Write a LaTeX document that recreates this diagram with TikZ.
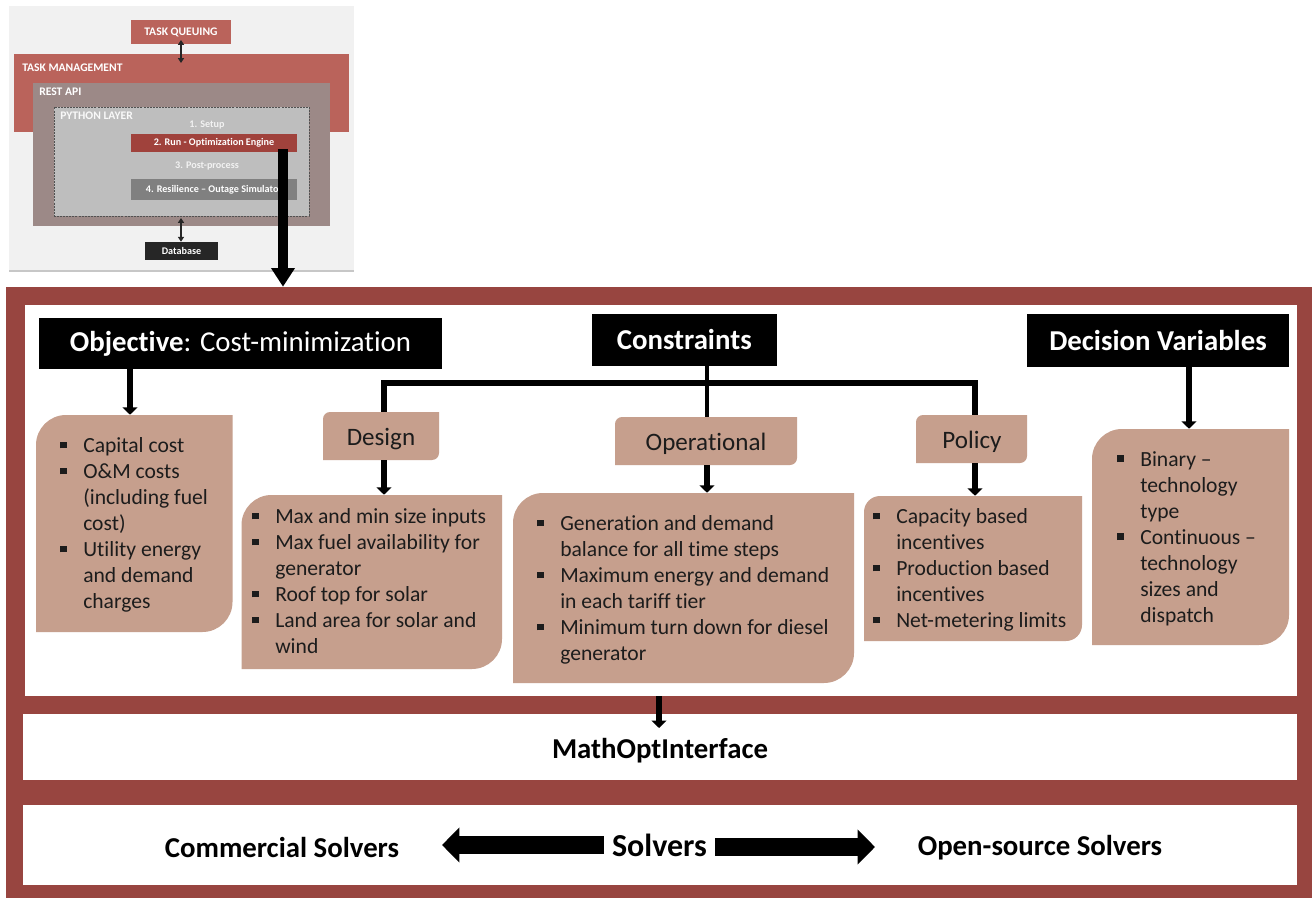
\documentclass[tikz,border=0pt]{standalone}
\usepackage{fontspec}
\setmainfont{Carlito}[Ligatures=NoCommon]
\usetikzlibrary{arrows.meta,calc}
\definecolor{frameR}{HTML}{984540}
\definecolor{tanB}{HTML}{C69F8D}
\definecolor{thumbBg}{HTML}{F1F1F1}
\definecolor{taskR}{HTML}{BA635B}
\definecolor{restG}{HTML}{9C8987}
\definecolor{pyG}{HTML}{BEBEBE}
\definecolor{runR}{HTML}{A0423C}
\definecolor{resG}{HTML}{808080}
\definecolor{dbK}{HTML}{262626}
\definecolor{bodyK}{HTML}{1C1C1C}
\newcommand{\rectnode}[7][]{%
  \node[rectangle,inner sep=0pt,minimum width={(#4-#2)*0.75pt},minimum height={(#5-#3)*0.75pt},#1] (#6) at ({(#2+#4)/2},{(#3+#5)/2}) {#7};}
\newcommand{\diagnode}[6]{%
  \pgfmathsetmacro{\xa}{#2}\pgfmathsetmacro{\ya}{#3}\pgfmathsetmacro{\xb}{#4}\pgfmathsetmacro{\yb}{#5}\pgfmathsetmacro{\rr}{#6}%
  \fill[tanB] (\xa,\yb) -- (\xa,\ya+\rr) .. controls (\xa,\ya+0.45*\rr) and (\xa+0.45*\rr,\ya) .. (\xa+\rr,\ya) -- (\xb,\ya) -- (\xb,\yb-\rr) .. controls (\xb,\yb-0.45*\rr) and (\xb-0.45*\rr,\yb) .. (\xb-\rr,\yb) -- cycle;
  \rectnode{#2}{#3}{#4}{#5}{#1}{}}
\newcommand{\bl}{\makebox[0pt][r]{\raisebox{3pt}{\rule{5pt}{5pt}}\hspace{12.4pt}}}
\tikzset{
  hdr/.style={fill=black,text=white,font=\fontsize{21.6}{26}\selectfont},
  sub/.style={font=\fontsize{18.8}{22}\selectfont,text=bodyK},
  lst/.style={anchor=north west,inner sep=0pt,align=left,text=bodyK,font=\fontsize{16.2}{19.5}\selectfont},
  thb/.style={text=white,font=\fontsize{7.6}{9}\selectfont\bfseries},
  thc/.style={text=white,font=\fontsize{8.7}{10}\selectfont\bfseries},
  big/.style={font=\fontsize{21.6}{26}\selectfont\bfseries,text=black},
  arr/.style={line width=3.9pt,-{Triangle[length=5.5pt,width=11pt]},black},
  thinarr/.style={line width=0.9pt,{Triangle[length=3.7pt,width=4.6pt]}-{Triangle[length=3.7pt,width=4.6pt]},dbK},
  bar/.style={line width=5pt,black,line join=miter}
}
\begin{document}
\begin{tikzpicture}[x=0.75pt,y=-0.75pt]
\useasboundingbox (0,0) rectangle (1312,898);
% thumbnail
\rectnode[fill=black!22]{9}{7}{354}{272}{tshadow}{}
\rectnode[fill=thumbBg]{9}{6}{354}{270}{thumb}{}
\rectnode[fill=taskR,thc]{131}{20}{231}{44}{tq}{TASK QUEUING}
\rectnode[fill=taskR]{14}{54}{349}{132}{tm}{}
\rectnode[fill=restG]{33}{83}{330}{226}{rest}{}
\rectnode[fill=pyG,draw=dbK!80,dash pattern=on 1.5pt off 0.8pt,line width=0.6pt]{54}{107}{309}{216}{py}{}
\rectnode[fill=runR,thb]{131}{134}{297}{152}{run}{2. Run - Optimization Engine}
\rectnode[fill=resG,thb]{131}{179}{297}{200}{res}{4. Resilience -- Outage Simulator}
\rectnode[fill=dbK,thb]{145}{242}{218}{260}{db}{Database}
\node[thc,anchor=west,inner sep=0pt] (tml) at (22,68) {TASK MANAGEMENT};
\node[thc,anchor=west,inner sep=0pt] (ral) at (39,91.5) {REST API};
\node[thc,anchor=west,inner sep=0pt,text=white!90!pyG] (pyl) at (60,116) {PYTHON LAYER};
\node[thb,inner sep=0pt,text=white!80!pyG] (st1) at (207,124.5) {1. Setup};
\node[thb,inner sep=0pt,text=white!80!pyG] (st3) at (207,166) {3. Post-process};
\coordinate (tqx) at (181,63);
\coordinate (tqy) at (181,40);
\coordinate (rex) at (181,218);
\draw[thinarr] (tqy) -- (tqx);
\draw[thinarr] (rex) -- (db.north -| rex);
% frame
\rectnode[fill=frameR]{6}{287}{1312}{898}{frame}{}
\rectnode[fill=white]{25}{305}{1297}{696}{pTop}{}
\rectnode[fill=white]{23}{714}{1297}{780}{pMoi}{}
\rectnode[fill=white]{23}{805}{1297}{885}{pSol}{}
% main arrow
\coordinate (mx) at (283,149);
\draw[line width=6.9pt,-{Triangle[length=14pt,width=17pt]},black] (mx) -- (mx |- frame.north);
% headers
\rectnode[hdr]{39}{318}{442}{369}{obj}{\raisebox{-1.5pt}{\textbf{Objective}: Cost-minimization}}
\rectnode[hdr,font=\fontsize{21.6}{26}\selectfont\bfseries]{592}{314}{776.5}{366}{con}{Constraints}
\rectnode[hdr,font=\fontsize{21.6}{26}\selectfont\bfseries]{1027}{314}{1289}{367}{dec}{Decision Variables}
% sub boxes
\diagnode{design}{323}{412}{439}{460}{7}
\node[sub,inner sep=0pt] (designT) at (381,439) {Design};
\diagnode{oper}{615}{417}{797}{465}{7}
\node[sub,inner sep=0pt] (operT) at (706,444) {Operational};
\diagnode{policy}{916}{415}{1027}{463}{7}
\node[sub,inner sep=0pt] (policyT) at (972,442) {Policy};
% lists
\diagnode{capL}{36}{415}{232.5}{632}{30}
\diagnode{desL}{241.5}{495}{502}{669}{30}
\diagnode{opL}{513}{493}{854}{683}{30}
\diagnode{polL}{864}{496}{1082}{641}{16}
\diagnode{decL}{1092}{429}{1289}{645}{30}
\node[lst] (capT) at (83,437) {\bl Capital cost\\\bl O\&M costs\\(including fuel\\cost)\\\bl Utility energy\\and demand\\charges};
\node[lst] (desT) at (275,508) {\bl Max and min size inputs\\\bl Max fuel availability for\\generator\\\bl Roof top for solar\\\bl Land area for solar and\\wind};
\node[lst] (opT) at (560,515) {\bl Generation and demand\\balance for all time steps\\\bl Maximum energy and demand\\in each tariff tier\\\bl Minimum turn down for diesel\\generator};
\node[lst] (polT) at (896,508) {\bl Capacity based\\incentives\\\bl Production based\\incentives\\\bl Net-metering limits};
\node[lst] (decT) at (1140,451) {\bl Binary --\\technology\\type\\\bl Continuous --\\technology\\sizes and\\dispatch};
% connectors
\coordinate (ax) at (130,0);
\coordinate (bx) at (384,0);
\coordinate (cx) at (707,0);
\coordinate (dx) at (975,0);
\coordinate (ex) at (1189,0);
\coordinate (fx) at (659,0);
\coordinate (hy) at (0,383);
\draw[arr] (ax |- obj.south) -- (ax |- capL.north);
\draw[arr] (ex |- dec.south) -- (ex |- decL.north);
\draw[arr] (bx |- design.south) -- (bx |- desL.north);
\draw[arr] (cx |- oper.south) -- (cx |- opL.north);
\draw[arr] (dx |- policy.south) -- (dx |- polL.north);
\draw[line width=3.4pt,black] (cx |- con.south) -- (cx |- oper.north);
\draw[bar] (bx |- design.north) -- (bx |- hy) -- (dx |- hy) -- (dx |- policy.north);
\coordinate (moiTip) at (659,728);
\draw[arr] (fx |- pTop.south) -- (moiTip);
% bottom text
\node[big,inner sep=0pt] (moi) at (660,751) {MathOptInterface};
\rectnode[big,font=\fontsize{24}{28}\selectfont\bfseries]{604}{832}{715}{858}{solv}{Solvers}
\node[big,inner sep=0pt] (comm) at (282,847) {Commercial Solvers};
\node[big,inner sep=0pt] (open) at (1040,848) {Open-source Solvers};
\coordinate (tipL) at (442,845);
\coordinate (tipR) at (875,847);
\draw[line width=13.5pt,-{Triangle[length=13pt,width=25.5pt]},black] (solv.west |- tipL) -- (tipL);
\draw[line width=13.5pt,-{Triangle[length=13pt,width=25.5pt]},black] (solv.east |- tipR) -- (tipR);
\end{tikzpicture}
\end{document}
